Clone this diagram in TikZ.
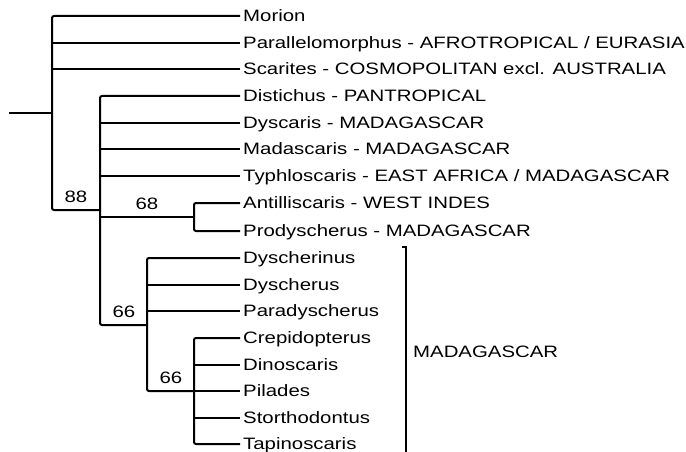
\documentclass[tikz,border=0pt]{standalone}
\usepackage{fontspec}
\setmainfont{Liberation Sans}[FakeStretch=1.235]
\begin{document}
\begin{tikzpicture}[x=1pt,y=-1pt,
  branch/.style={line width=2pt,rounded corners=2pt},
  leaf/.style={anchor=west,inner xsep=3pt,inner ysep=0pt,text height=12pt,text depth=1pt,font=\fontsize{16.5}{18}\selectfont},
  support/.style={anchor=base,inner sep=0pt,font=\fontsize{16.5}{18}\selectfont}]
\useasboundingbox (0,0) rectangle (686,452);
% leaves
\node[leaf] (L0) at (240,16) {Morion};
\node[leaf] (L1) at (240,43) {Parallelomorphus - AFROTROPICAL / EURASIA};
\node[leaf] (L2) at (240,69) {Scarites - COSMOPOLITAN excl. AUSTRALIA};
\node[leaf] (L3) at (240,96) {Distichus - PANTROPICAL};
\node[leaf] (L4) at (240,123) {Dyscaris - MADAGASCAR};
\node[leaf] (L5) at (240,149) {Madascaris - MADAGASCAR};
\node[leaf] (L6) at (240,176) {Typhloscaris - EAST AFRICA / MADAGASCAR};
\node[leaf] (L7) at (240,203) {Antilliscaris - WEST INDES};
\node[leaf] (L8) at (240,231) {Prodyscherus - MADAGASCAR};
\node[leaf] (L9) at (240,258) {Dyscherinus};
\node[leaf] (L10) at (240,285) {Dyscherus};
\node[leaf] (L11) at (240,311) {Paradyscherus};
\node[leaf] (L12) at (240,338) {Crepidopterus};
\node[leaf] (L13) at (240,365) {Dinoscaris};
\node[leaf] (L14) at (240,391) {Pilades};
\node[leaf] (L15) at (240,418) {Storthodontus};
\node[leaf] (L16) at (240,444) {Tapinoscaris};
% internal nodes
\coordinate (stub) at (9,113);
\coordinate (r) at (52,113);
\coordinate (n88) at (100,210);
\coordinate (n68) at (194,217);
\coordinate (n66a) at (147,325);
\coordinate (n66b) at (194,391);
% root
\draw[branch] (stub) -- (r);
\draw[branch] (L0.west) -| (r) |- (n88);
\draw[branch] (r |- L1.west) -- (L1.west);
\draw[branch] (r |- L2.west) -- (L2.west);
% clade 88
\draw[branch] (L3.west) -| (n88) |- (n66a);
\draw[branch] (n88 |- L4.west) -- (L4.west);
\draw[branch] (n88 |- L5.west) -- (L5.west);
\draw[branch] (n88 |- L6.west) -- (L6.west);
\draw[branch] (n88 |- n68) -- (n68);
% clade 68
\draw[branch] (L7.west) -| (n68) |- (L8.west);
% clade 66a
\draw[branch] (L9.west) -| (n66a) |- (n66b);
\draw[branch] (n66a |- L10.west) -- (L10.west);
\draw[branch] (n66a |- L11.west) -- (L11.west);
% clade 66b
\draw[branch] (L12.west) -| (n66b) |- (L16.west);
\draw[branch] (n66b |- L13.west) -- (L13.west);
\draw[branch] (n66b |- L14.west) -- (L14.west);
\draw[branch] (n66b |- L15.west) -- (L15.west);
% support values
\node[support] (s88) at (76,202) {88};
\node[support] (s68) at (147,209) {68};
\node[support] (s66a) at (124,317) {66};
\node[support] (s66b) at (171,383) {66};
% bracket
\coordinate (bt) at (402,247);
\coordinate (bb) at (406,452);
\draw[line width=2pt] (bt) -| (bb);
\node[leaf,inner xsep=0pt] (mad) at (413,352) {MADAGASCAR};
\end{tikzpicture}
\end{document}
